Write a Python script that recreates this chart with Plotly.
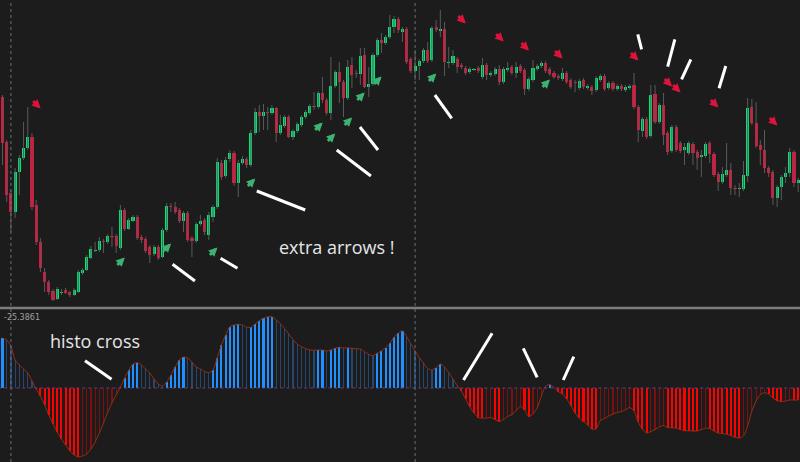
import plotly.graph_objects as go

# ---------------- data ----------------
OPEN = [223,178,127,108,148,162,172,183,115,78,
        48,38,29,21,27,30,28,25,28,47,
        50,62,69,70,79,78,84,84,72,110,
        91,99,103,83,81,73,66,73,63,90,
        114,113,110,99,107,82,79,96,100,85,
        103,113,157,144,161,167,137,157,161,155,
        187,208,204,208,207,212,187,194,203,183,
        189,195,203,207,214,213,227,220,207,234,
        248,238,222,255,247,246,265,233,236,265,
        280,277,283,293,301,288,291,261,249,254,
        259,270,260,293,289,291,257,257,261,255,
        252,248,250,252,243,255,245,246,251,238,
        250,253,247,254,250,231,240,251,254,257,
        251,247,244,241,247,240,238,232,240,232,
        233,230,240,244,232,237,231,234,230,232,
        235,213,189,201,184,226,198,215,187,169,
        193,177,170,167,176,168,163,164,177,166,
        146,138,145,150,132,131,131,144,213,197,
        175,170,152,148,122,133,143,147,168,137]
HIGH = [225,180,130,152,165,198,213,187,120,82,
        52,40,31,33,31,32,29,32,50,52,
        65,74,78,83,81,86,93,86,115,112,
        102,105,105,85,83,75,75,75,92,117,
        117,118,112,109,109,84,98,105,102,108,
        115,162,160,163,170,169,160,164,163,190,
        212,215,216,213,215,213,205,205,205,191,
        198,205,210,216,228,229,243,222,263,250,
        258,240,260,263,250,272,272,253,267,282,
        287,285,305,304,303,293,293,263,270,261,
        272,278,294,300,310,298,273,270,263,257,
        254,253,252,254,262,257,249,253,255,253,
        258,255,258,256,252,243,260,256,259,259,
        253,249,246,252,249,242,240,241,242,236,
        235,244,246,246,239,239,236,236,235,236,
        247,215,203,203,235,235,217,227,189,195,
        195,179,177,179,178,170,170,178,179,168,
        148,153,177,157,135,137,159,222,221,218,
        180,190,154,150,135,145,153,172,170,142]
LOW = [155,118,88,102,125,160,170,110,75,48,
       28,25,19,20,25,26,23,24,27,45,
       49,61,68,68,67,76,73,67,70,89,
       90,98,80,77,67,57,64,60,62,88,
       108,106,97,88,78,63,77,94,85,80,
       98,111,140,142,158,134,123,155,152,153,
       185,188,190,190,205,178,185,192,182,180,
       187,193,201,205,210,211,217,205,200,232,
       217,203,220,232,242,235,232,223,234,263,
       267,275,281,287,287,278,256,247,240,240,
       257,257,258,288,283,244,252,255,247,251,
       245,246,249,247,241,240,243,244,235,236,
       248,245,242,247,225,229,238,249,252,247,
       244,241,240,239,236,231,228,230,231,230,
       225,228,238,229,230,229,229,229,228,230,
       211,178,183,181,182,196,196,175,165,167,
       168,167,155,165,155,150,143,162,157,143,
       129,136,143,125,125,123,129,138,195,172,
       155,147,143,115,113,120,137,143,133,128]
CLOSE = [177,125,108,148,162,172,183,113,78,52,
         38,28,20,31,28,27,25,30,48,50,
         63,71,70,79,78,84,83,74,110,91,
         100,103,82,80,69,65,73,62,90,114,
         113,108,99,107,80,79,96,99,88,105,
         113,158,143,160,167,137,157,161,155,187,
         208,204,208,207,212,187,195,203,183,189,
         196,203,208,214,213,227,220,207,234,248,
         238,222,253,245,246,264,233,236,265,280,
         277,283,293,301,290,291,258,249,254,259,
         270,259,292,290,291,258,258,264,253,253,
         247,251,251,249,255,245,247,251,238,251,
         252,247,253,249,231,241,252,254,257,249,
         246,243,242,247,238,233,237,239,233,234,
         229,242,244,231,237,231,234,231,233,234,
         213,190,201,183,225,198,215,185,168,193,
         170,169,173,177,167,162,165,176,166,145,
         138,146,150,132,131,132,145,212,197,174,
         170,152,147,122,133,143,147,168,137,140]

HISTO = [50,48,42,28,23,19,15,7,-1,-8,
         -17,-27,-36,-44,-51,-57,-63,-67,-69,-68,
         -66,-61,-54,-45,-35,-24,-15,-7,1,10,
         18,24,25.5,23,19,15,9,4,2,6,
         13,21,28,31,30,26,21,19,16.5,15.3,
         18,30,43,53,61.5,63,63.7,63,60.7,60.7,
         64,67.3,69.7,71.3,71.3,68,64.5,59.5,54,48.5,
         44,41.3,39.3,38,37.7,38,38,37,38,39.7,
         40.7,40,40.3,39.7,39.3,39,36.3,33.7,32.3,34.7,
         37.3,40.3,44.7,50.7,55,57,51.3,44,37,30.5,
         25,19.5,18,20.5,24,21,15.5,9,2.5,-3,
         -11,-19,-25,-29.5,-30.3,-30,-29.5,-31.5,-33.5,-31.5,
         -28.5,-26.5,-22.5,-18.5,-22,-28.5,-26,-20,-8,2,
         3.5,0.5,-3.5,-6,-11,-17.5,-25,-30,-33.5,-37,
         -41,-41,-32.5,-30.5,-28,-26,-24.5,-23.5,-21.7,-19.5,
         -23,-34,-41,-45,-43.5,-41.5,-39,-37.5,-39.5,-39.7,
         -40,-41.5,-42.7,-42.8,-43,-43,-41.5,-40.2,-40.5,-43,
         -45,-45.5,-46.3,-47.5,-49.3,-50,-48,-38,-23,-13,
         -6.5,-4.7,-6,-10,-12.5,-13.5,-13,-12,-12,-12]

UP_ARROW_BARS = [28, 39, 50, 59, 75, 78, 82, 85, 89, 102, 129]
UP_ARROW_LEVEL = [58, 72, 68, 137, 193, 182, 198, 223, 239, 242, 236]
DN_ARROW_BARS = [8, 109, 118, 124, 132, 150, 158, 160, 169, 183, 189]
DN_ARROW_LEVEL = [216, 301, 283, 274, 266, 264, 238, 232, 217, 199, 196]

SEPARATOR_BARS = [2, 98]
HISTO_LABEL = "-25.3861"

# hand-drawn white notes: (bar0, level0, bar1, level1)
NOTES_MAIN = [(40.4, 55.7, 45.7, 39), (51.8, 61.7, 55.8, 51.7), (60.4, 129, 71.9, 110),
              (79.4, 170, 87.5, 144), (84.9, 193, 89.2, 170), (102.7, 225, 106.7, 201.7),
              (150.9, 285.7, 151.8, 270.7), (159.7, 280.7, 158, 253.3),
              (163.5, 260.7, 161.3, 240.7), (171.8, 254, 170.2, 231.7)]
NOTES_HISTO = [(19.6, 27.3, 25.9, 8.7), (116.3, 54.7, 109.5, 8),
               (123.7, 39.7, 127, 10.7), (135.7, 31.3, 133.2, 8)]

# ---------------- styling ----------------
BG = "#1c1c1c"
BULL = "#00e676"
BEAR = "#dc143c"
UPARROW = "#3cb371"
WICK = "#5a5a5a"

n = len(OPEN)
idx = list(range(n))

fig = go.Figure()

# wicks
wx, wy = [], []
for i in idx:
    wx += [i, i, None]
    wy += [LOW[i], HIGH[i], None]
fig.add_trace(go.Scatter(x=wx, y=wy, mode="lines", line=dict(color=WICK, width=1),
                         hoverinfo="skip", showlegend=False, xaxis="x", yaxis="y"))

# bodies
base = [min(o, c) for o, c in zip(OPEN, CLOSE)]
height = [max(abs(c - o), 0.8) for o, c in zip(OPEN, CLOSE)]
cols = [BULL if c >= o else BEAR for o, c in zip(OPEN, CLOSE)]
fig.add_trace(go.Bar(x=idx, y=height, base=base, width=0.74, marker=dict(color=cols, line=dict(width=0)),
                     showlegend=False, xaxis="x", yaxis="y"))

# histogram
hcols, hw = [], []
for i, v in enumerate(HISTO):
    prev = abs(HISTO[i - 1]) if i > 0 else 0
    bright = abs(v) >= prev
    if v >= 0:
        hcols.append("#1e90ff" if bright else "#27476e")
    else:
        hcols.append("#ff0000" if bright else "#7a1010")
    hw.append(0.5 if bright else 0.28)
fig.add_trace(go.Bar(x=idx, y=HISTO, width=hw, marker=dict(color=hcols, line=dict(width=0)),
                     showlegend=False, xaxis="x2", yaxis="y2"))
fig.add_trace(go.Scatter(x=idx, y=HISTO, mode="lines",
                         line=dict(color="#9a2d12", width=1, shape="spline", smoothing=0.6),
                         showlegend=False, xaxis="x2", yaxis="y2"))

shapes = []
shapes.append(dict(type="line", xref="x2", yref="y2", x0=-1, x1=n, y0=0, y1=0,
                   line=dict(color="#6a3a80", width=1, dash="dot")))
for b in SEPARATOR_BARS:
    shapes.append(dict(type="line", xref="x", yref="paper", x0=b, x1=b, y0=0, y1=1,
                       line=dict(color="#6e6e6e", width=1, dash="dot")))
shapes.append(dict(type="line", xref="paper", yref="paper", x0=0, x1=1, y0=1 - 308 / 462, y1=1 - 308 / 462,
                   line=dict(color="#7c7c7c", width=2.5)))
for (a, b, c, d) in NOTES_MAIN:
    shapes.append(dict(type="line", xref="x", yref="y", x0=a, y0=b, x1=c, y1=d,
                       line=dict(color="white", width=3)))
for (a, b, c, d) in NOTES_HISTO:
    shapes.append(dict(type="line", xref="x2", yref="y2", x0=a, y0=b, x1=c, y1=d,
                       line=dict(color="white", width=3)))

annotations = []
# signal arrows (bold diagonal arrows): head up-right / down-right of the arrow's centre
for b, lv in zip(UP_ARROW_BARS, UP_ARROW_LEVEL):
    annotations.append(dict(x=b + 1.05, y=lv + 4.5, xref="x", yref="y", text="", showarrow=True,
                            ax=-9, ay=9, arrowhead=2, arrowsize=0.62, arrowwidth=2.8,
                            arrowcolor=UPARROW, standoff=0, startstandoff=0))
for b, lv in zip(DN_ARROW_BARS, DN_ARROW_LEVEL):
    annotations.append(dict(x=b + 1.05, y=lv - 4.5, xref="x", yref="y", text="", showarrow=True,
                            ax=-9, ay=-9, arrowhead=2, arrowsize=0.62, arrowwidth=2.8,
                            arrowcolor=BEAR, standoff=0, startstandoff=0))

annotations += [
    dict(x=79.3, y=73, xref="x", yref="y", text="extra arrows !", showarrow=False,
         font=dict(family="Open Sans", size=18, color="#e6e6e6")),
    dict(x=22, y=47, xref="x2", yref="y2", text="histo cross", showarrow=False,
         font=dict(family="Open Sans", size=18, color="#e6e6e6")),
    dict(x=0.002, y=1 - 311 / 462, xref="paper", yref="paper", xanchor="left", yanchor="top",
         text=HISTO_LABEL, showarrow=False, font=dict(family="DejaVu Sans", size=8, color="#a0a0a0")),
]

xr = [-0.594, 189.43]
fig.update_layout(
    width=800, height=462, margin=dict(l=0, r=0, t=0, b=0),
    paper_bgcolor=BG, plot_bgcolor=BG, barmode="overlay", bargap=0,
    xaxis=dict(range=xr, domain=[0, 1], anchor="y", visible=False, fixedrange=True),
    yaxis=dict(range=[14, 320], domain=[1 - 306 / 462, 1], visible=False, fixedrange=True),
    xaxis2=dict(range=xr, domain=[0, 1], anchor="y2", visible=False, fixedrange=True),
    yaxis2=dict(range=[-74, 78], domain=[0, 1 - 310 / 462], visible=False, fixedrange=True),
    shapes=shapes, annotations=annotations, showlegend=False, hovermode=False,
)

fig.write_html("out.html", config={"displayModeBar": False, "staticPlot": True},
               post_script="document.body.style.margin='0';document.body.style.background='#1c1c1c';")
